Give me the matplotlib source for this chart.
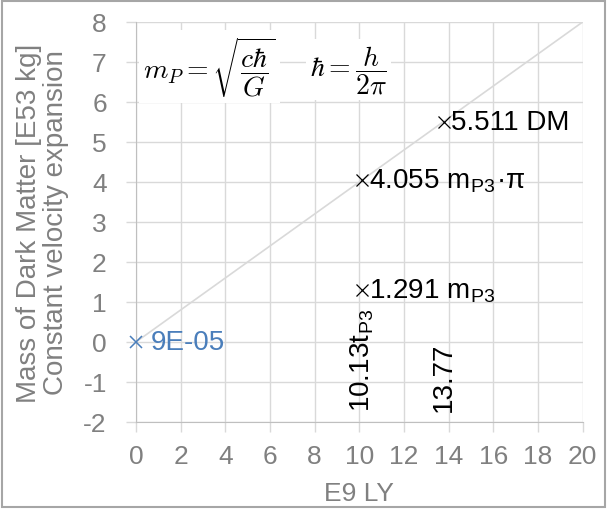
import matplotlib
matplotlib.use("Agg")
import matplotlib.pyplot as plt
import numpy as np

plt.rcParams['font.family'] = ['Liberation Sans', 'DejaVu Sans']
plt.rcParams['mathtext.fontset'] = 'cm'
plt.rcParams['axes.unicode_minus'] = False

# Data
line_x = [0, 20]
line_y = [0, 8]
origin_x = [0]
origin_y = [9e-05]
origin_label = "9E-05"
pts_x = [10.13, 10.13, 13.77]
pts_y = [1.291, 4.055, 5.511]
pts_labels = [r"1.291 m$_{\mathregular{P3}}$", r"4.055 m$_{\mathregular{P3}}$·π", "5.511 DM"]
vlabels_x = [10.13, 13.77]
vlabels = [r"10.13t$_{\mathregular{P3}}$", "13.77"]
xticks = list(range(0, 21, 2))
yticks = list(range(-2, 9))

gray = '#808080'
grid = '#d9d9d9'
blue = '#4a7ebb'

fig = plt.figure(figsize=(6.07, 5.10), dpi=100)
ax = fig.add_axes([0.224, 0.1706, 0.736, 0.7844])
ax.set_xlim(0, 20)
ax.set_ylim(-2, 8)
ax.set_xticks(xticks)
ax.set_yticks(yticks)
ax.grid(True, color=grid, linewidth=1)
ax.set_axisbelow(True)
for s in ['top', 'right']:
    ax.spines[s].set_visible(False)
for s in ['left', 'bottom']:
    ax.spines[s].set_color('#bfbfbf')
ax.tick_params(axis='both', colors=grid, labelcolor=gray, labelsize=19, length=7, width=1)
ax.tick_params(axis='y', pad=14)
ax.tick_params(axis='x', pad=9)

ax.plot(line_x, line_y, color='#d9d9d9', linewidth=1.2, zorder=2)
ax.plot(origin_x, origin_y, linestyle='none', marker='x', color=blue, markersize=8, mew=1.1,
        zorder=3, clip_on=False)
ax.annotate(origin_label, (origin_x[0], origin_y[0]), xytext=(11, 0), textcoords='offset points',
            color=blue, fontsize=20, va='center', ha='left')
ax.plot(pts_x, pts_y, linestyle='none', marker='x', color='black', markersize=8, mew=0.9, zorder=3)
for x, y, t in zip(pts_x, pts_y, pts_labels):
    ax.annotate(t, (x, y), xytext=(5, 0), textcoords='offset points',
                color='black', fontsize=20, va='center', ha='left')
for x, t in zip(vlabels_x, vlabels):
    ax.text(x, -1.72, t, rotation=90, ha='center', va='bottom', fontsize=20, color='black')

ax.set_xlabel("E9 LY", color=gray, fontsize=19, labelpad=9)
ax.set_ylabel("Mass of Dark Matter [E53 kg]\nConstant velocity expansion", color=gray,
              fontsize=20, labelpad=10, linespacing=1.05)

ax.text(0.3, 6.88, r"$m_P = \sqrt{\dfrac{c\hbar}{G}}$", fontsize=20, va='center', ha='left',
        bbox=dict(facecolor='white', edgecolor='none', pad=3), zorder=4)
ax.text(7.8, 6.8, r"$\hbar = \dfrac{h}{2\pi}$", fontsize=20, va='center', ha='left',
        bbox=dict(facecolor='white', edgecolor='none', pad=3), zorder=4)

fig.patches.append(plt.Rectangle((0.003, 0.003), 0.994, 0.994, transform=fig.transFigure,
                                 fill=False, edgecolor='#a6a6a6', linewidth=1.5))
fig.savefig("out.png", dpi=100)
